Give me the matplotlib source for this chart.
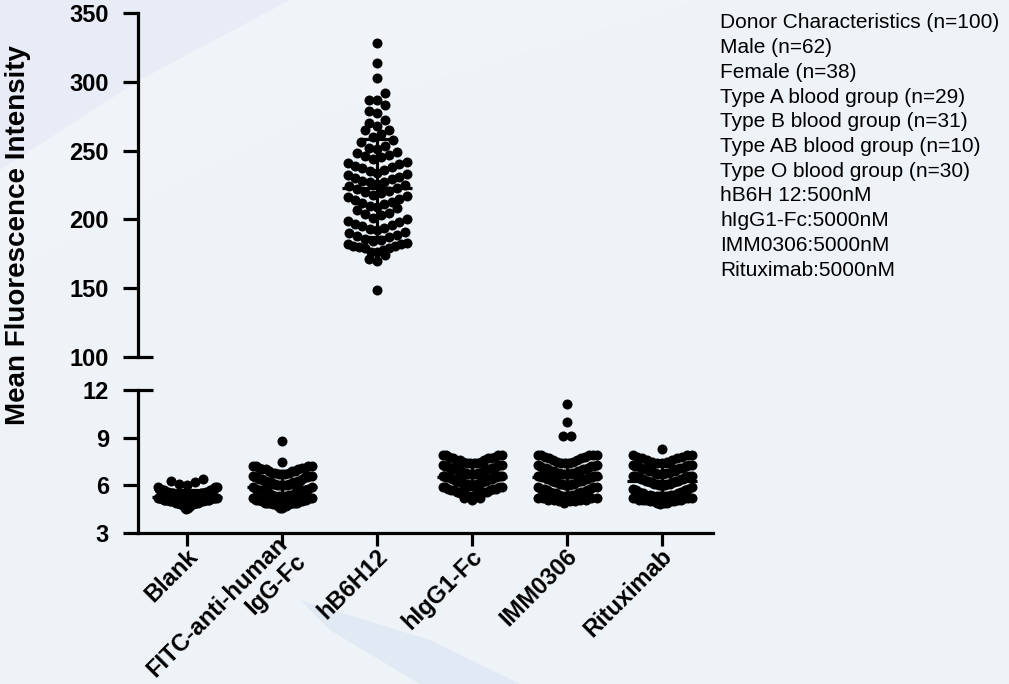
import numpy as np
import matplotlib
matplotlib.use("Agg")
import matplotlib.pyplot as plt
from matplotlib import transforms
from matplotlib.patches import Polygon

plt.rcParams['font.family'] = ['Liberation Sans', 'DejaVu Sans']

# ---------------------------------------------------------------- data
groups = ["Blank", "FITC-anti-human\nIgG-Fc", "hB6H12", "hIgG1-Fc", "IMM0306", "Rituximab"]

blank_mfi = [
    4.5, 4.6, 4.6, 4.7, 4.7, 4.7, 4.8, 4.8, 4.8, 4.8,
    4.8, 4.9, 4.9, 4.9, 4.9, 4.9, 4.9, 4.9, 5.0, 5.0,
    5.0, 5.0, 5.0, 5.0, 5.0, 5.0, 5.0, 5.1, 5.1, 5.1,
    5.1, 5.1, 5.1, 5.1, 5.1, 5.1, 5.1, 5.2, 5.2, 5.2,
    5.2, 5.2, 5.2, 5.2, 5.2, 5.2, 5.2, 5.2, 5.3, 5.3,
    5.3, 5.3, 5.3, 5.3, 5.3, 5.3, 5.3, 5.3, 5.3, 5.4,
    5.4, 5.4, 5.4, 5.4, 5.4, 5.4, 5.4, 5.4, 5.4, 5.5,
    5.5, 5.5, 5.5, 5.5, 5.5, 5.5, 5.5, 5.6, 5.6, 5.6,
    5.6, 5.6, 5.6, 5.7, 5.7, 5.7, 5.7, 5.7, 5.8, 5.8,
    5.8, 5.8, 5.9, 5.9, 5.9, 6.0, 6.1, 6.2, 6.3, 6.4,
]

fitc_igg_fc_mfi = [
    4.6, 4.6, 4.7, 4.7, 4.7, 4.8, 4.8, 4.8, 4.8, 4.8,
    4.9, 4.9, 4.9, 4.9, 4.9, 4.9, 4.9, 4.9, 5.0, 5.0,
    5.0, 5.0, 5.0, 5.1, 5.1, 5.1, 5.1, 5.1, 5.2, 5.2,
    5.2, 5.2, 5.2, 5.3, 5.3, 5.3, 5.3, 5.4, 5.4, 5.4,
    5.5, 5.5, 5.5, 5.6, 5.6, 5.6, 5.7, 5.7, 5.8, 5.8,
    5.9, 5.9, 6.0, 6.0, 6.0, 6.0, 6.0, 6.1, 6.1, 6.1,
    6.1, 6.2, 6.2, 6.2, 6.2, 6.3, 6.3, 6.3, 6.3, 6.4,
    6.4, 6.4, 6.5, 6.5, 6.5, 6.5, 6.6, 6.6, 6.6, 6.7,
    6.7, 6.7, 6.8, 6.8, 6.8, 6.9, 6.9, 6.9, 7.0, 7.0,
    7.0, 7.1, 7.1, 7.1, 7.2, 7.2, 7.2, 7.2, 7.5, 8.8,
]

hb6h12_mfi = [
    328, 314, 303, 292, 287, 287, 283, 279, 277, 272,
    270, 268, 265, 265, 262, 260, 258, 256, 253, 252,
    251, 249, 248, 247, 246, 245, 244, 242, 241, 240,
    239, 238, 237, 236, 235, 234, 233, 232, 231, 230,
    229, 228, 227, 227, 226, 225, 224, 223, 222, 221,
    220, 219, 218, 217, 216, 215, 214, 213, 212, 211,
    210, 209, 208, 207, 205, 204, 203, 201, 200, 199,
    198, 197, 196, 195, 194, 193, 192, 191, 190, 189,
    188, 187, 186, 185, 184, 183, 182, 182, 181, 181,
    180, 179, 179, 178, 176, 176, 174, 171, 170, 149,
]

higg1_fc_mfi = [
    5.1, 5.2, 5.2, 5.3, 5.3, 5.4, 5.4, 5.4, 5.5, 5.5,
    5.5, 5.6, 5.6, 5.6, 5.7, 5.7, 5.7, 5.8, 5.8, 5.8,
    5.9, 5.9, 5.9, 5.9, 6.0, 6.0, 6.0, 6.0, 6.1, 6.1,
    6.1, 6.1, 6.1, 6.2, 6.2, 6.2, 6.2, 6.3, 6.3, 6.3,
    6.3, 6.4, 6.4, 6.4, 6.4, 6.4, 6.5, 6.5, 6.5, 6.5,
    6.5, 6.6, 6.6, 6.6, 6.6, 6.6, 6.7, 6.7, 6.7, 6.7,
    6.8, 6.8, 6.8, 6.8, 6.9, 6.9, 6.9, 6.9, 7.0, 7.0,
    7.0, 7.0, 7.1, 7.1, 7.1, 7.1, 7.2, 7.2, 7.2, 7.3,
    7.3, 7.3, 7.4, 7.4, 7.4, 7.4, 7.5, 7.5, 7.6, 7.6,
    7.6, 7.7, 7.7, 7.7, 7.8, 7.8, 7.9, 7.9, 7.9, 7.9,
]

imm0306_mfi = [
    4.9, 5.0, 5.0, 5.0, 5.1, 5.1, 5.1, 5.1, 5.2, 5.2,
    5.2, 5.2, 5.3, 5.3, 5.3, 5.4, 5.4, 5.4, 5.5, 5.5,
    5.5, 5.6, 5.6, 5.6, 5.7, 5.7, 5.8, 5.8, 5.8, 5.9,
    5.9, 5.9, 6.0, 6.0, 6.0, 6.1, 6.1, 6.1, 6.1, 6.2,
    6.2, 6.2, 6.3, 6.3, 6.3, 6.4, 6.4, 6.4, 6.4, 6.5,
    6.5, 6.5, 6.5, 6.6, 6.6, 6.6, 6.6, 6.7, 6.7, 6.7,
    6.7, 6.8, 6.8, 6.8, 6.8, 6.9, 6.9, 6.9, 6.9, 7.0,
    7.0, 7.0, 7.1, 7.1, 7.1, 7.2, 7.2, 7.2, 7.3, 7.3,
    7.4, 7.4, 7.4, 7.5, 7.5, 7.6, 7.6, 7.7, 7.7, 7.8,
    7.8, 7.9, 7.9, 7.9, 7.9, 7.9, 9.1, 9.1, 10.0, 11.1,
]

rituximab_mfi = [
    4.8, 4.9, 4.9, 4.9, 5.0, 5.0, 5.0, 5.0, 5.1, 5.1,
    5.1, 5.1, 5.1, 5.2, 5.2, 5.2, 5.2, 5.2, 5.3, 5.3,
    5.3, 5.3, 5.3, 5.4, 5.4, 5.4, 5.4, 5.5, 5.5, 5.6,
    5.6, 5.7, 5.7, 5.8, 5.8, 5.9, 6.0, 6.0, 6.0, 6.0,
    6.1, 6.1, 6.1, 6.1, 6.2, 6.2, 6.2, 6.2, 6.3, 6.3,
    6.3, 6.3, 6.4, 6.4, 6.4, 6.4, 6.5, 6.5, 6.5, 6.5,
    6.6, 6.6, 6.6, 6.6, 6.7, 6.7, 6.7, 6.8, 6.8, 6.8,
    6.9, 6.9, 6.9, 6.9, 7.0, 7.0, 7.0, 7.1, 7.1, 7.1,
    7.2, 7.2, 7.2, 7.3, 7.3, 7.3, 7.4, 7.4, 7.5, 7.5,
    7.6, 7.6, 7.7, 7.7, 7.8, 7.8, 7.9, 7.9, 7.9, 8.3,
]

upper_ticks = [100, 150, 200, 250, 300, 350]
lower_ticks = [3, 6, 9, 12]

donor_notes = [
    "Donor Characteristics (n=100)",
    "Male (n=62)",
    "Female (n=38)",
    "Type A blood group (n=29)",
    "Type B blood group (n=31)",
    "Type AB blood group (n=10)",
    "Type O blood group (n=30)",
    "hB6H 12:500nM",
    "hIgG1-Fc:5000nM",
    "IMM0306:5000nM",
    "Rituximab:5000nM",
]

# (values, which panel)
series = [
    (blank_mfi, "lo"),
    (fitc_igg_fc_mfi, "lo"),
    (hb6h12_mfi, "hi"),
    (higg1_fc_mfi, "lo"),
    (imm0306_mfi, "lo"),
    (rituximab_mfi, "lo"),
]

# ---------------------------------------------------------------- figure
W, H = 1009, 684
fig = plt.figure(figsize=(W / 100, H / 100), dpi=100)
fig.patch.set_facecolor("#eef3f7")

def px(x, y):
    """pixel (x from left, y from top) -> figure fraction"""
    return (x / W, 1 - y / H)

# soft backdrop shapes
for verts, col in (
    ([(0, 0), (290, 0), (140, 80), (0, 170)], "#e7ecf6"),
    ([(290, 0), (700, 0), (300, 120), (40, 255), (0, 280), (0, 170), (140, 80)], "#f0f4f8"),
    ([(300, 600), (430, 640), (520, 684), (420, 684), (330, 630)], "#e1e9f4"),
):
    fig.patches.append(Polygon([px(*v) for v in verts], closed=True,
                               transform=fig.transFigure, facecolor=col,
                               edgecolor="none", zorder=-10))

def rect(x0, y0, x1, y1):
    return [x0 / W, 1 - y1 / H, (x1 - x0) / W, (y1 - y0) / H]

ax_hi = fig.add_axes(rect(138, 13, 713, 357))
ax_lo = fig.add_axes(rect(138, 390, 713, 533))

xlim = (-49 / 95, 5 + 51 / 95)
LW = 2.3
for ax in (ax_hi, ax_lo):
    ax.set_facecolor("none")
    ax.set_xlim(*xlim)
    for s in ("top", "right"):
        ax.spines[s].set_visible(False)
    ax.spines["left"].set_linewidth(LW)
    ax.tick_params(axis="y", direction="out", length=11, width=LW, pad=10,
                   labelsize=17)

ax_hi.set_ylim(100, 350)
ax_hi.set_yticks(upper_ticks)
ax_hi.set_yticklabels([str(t) for t in upper_ticks], fontweight="bold", fontsize=17)
ax_hi.spines["bottom"].set_visible(False)
ax_hi.xaxis.set_visible(False)

ax_lo.set_ylim(3, 12)
ax_lo.set_yticks(lower_ticks)
ax_lo.set_yticklabels([str(t) for t in lower_ticks], fontweight="bold", fontsize=17)
ax_lo.spines["bottom"].set_linewidth(LW)
ax_lo.set_xticks(range(len(groups)))
ax_lo.set_xticklabels([])
ax_lo.tick_params(axis="x", direction="out", length=9, width=LW)

# category names, one text per line, running up to the right at 45 degrees
LINE_PX = 26.0
for i, name in enumerate(groups):
    lines = name.split("\n")
    n = len(lines)
    # the two-line name is slid a little along its baseline to stay inside
    slide = 4.0 if n > 1 else 0.0
    for k, line in enumerate(lines):
        off = (k - (n - 1) / 2) * LINE_PX * 0.7071
        dx, dy = 7 + off + slide, 20 + off - slide   # pixels right / down
        tr = ax_lo.get_xaxis_transform() + transforms.ScaledTranslation(
            dx / 100, -dy / 100, fig.dpi_scale_trans)
        ax_lo.text(i, 0, line, transform=tr, rotation=45, rotation_mode="anchor",
                   ha="right", va="center", fontsize=17, fontweight="bold",
                   clip_on=False)

# break marks: ticks crossing the axis at the ends of the gap
for ax, yv in ((ax_hi, 100), (ax_lo, 12)):
    ax.plot([0, 15 / 575], [yv, yv], transform=ax.get_yaxis_transform(),
            color="black", lw=LW, clip_on=False, solid_capstyle="butt")

# ---------------------------------------------------------------- scatter layout
ROW_PX, STEP_PX, HALF_PX = 11.5, 8.0, 29.5
DOT_PT = 7.2

def scatter_offsets(ax, values, origin):
    """Group points into horizontal rows of ROW_PX pixels; within a row the
    lowest value sits in the middle and higher values fan outwards."""
    v = np.asarray(values, float)
    p0 = ax.transData.transform((0, 0))
    px_per_x = ax.transData.transform((1, 0))[0] - p0[0]
    px_per_y = ax.transData.transform((0, 1))[1] - p0[1]
    row_h = ROW_PX / px_per_y
    rows = np.floor((v - origin) / row_h + 1e-6)
    out = np.zeros_like(v)
    for r in np.unique(rows):
        idx = np.where(rows == r)[0]
        idx = idx[np.argsort(v[idx], kind="stable")]
        n = len(idx)
        if n == 1:
            continue
        step = min(STEP_PX, 2 * HALF_PX / (n - 1))
        slots = (np.arange(n) - (n - 1) / 2) * step
        order = np.lexsort((slots, np.round(np.abs(slots), 6)))
        out[idx] = slots[order] / px_per_x
    return out

for i, (vals, panel) in enumerate(series):
    ax = ax_hi if panel == "hi" else ax_lo
    v = np.asarray(vals, float)
    dx = scatter_offsets(ax, v, ax.get_ylim()[0] + (1.5 if panel == "lo" else 0.0))
    ax.plot(i + dx, v, "o", color="black", markersize=DOT_PT, markeredgewidth=0,
            zorder=3, clip_on=False)
    m, sd = v.mean(), v.std(ddof=1)
    ax.plot([i - 0.37, i + 0.37], [m, m], color="black", lw=LW, zorder=4,
            solid_capstyle="butt")
    ax.plot([i, i], [m - sd, m + sd], color="black", lw=LW, zorder=4)
    for e in (m - sd, m + sd):
        ax.plot([i - 0.17, i + 0.17], [e, e], color="black", lw=LW, zorder=4,
                solid_capstyle="butt")

# ---------------------------------------------------------------- labels
fig.text(*px(18, 235), "Mean Fluorescence Intensity", rotation=90,
         ha="center", va="center", fontsize=20, fontweight="bold")

for k, line in enumerate(donor_notes):
    fig.text(*px(720, 23 + 24.7 * k), line, ha="left", va="center", fontsize=15)

fig.savefig("out.png", dpi=100, facecolor=fig.get_facecolor())
